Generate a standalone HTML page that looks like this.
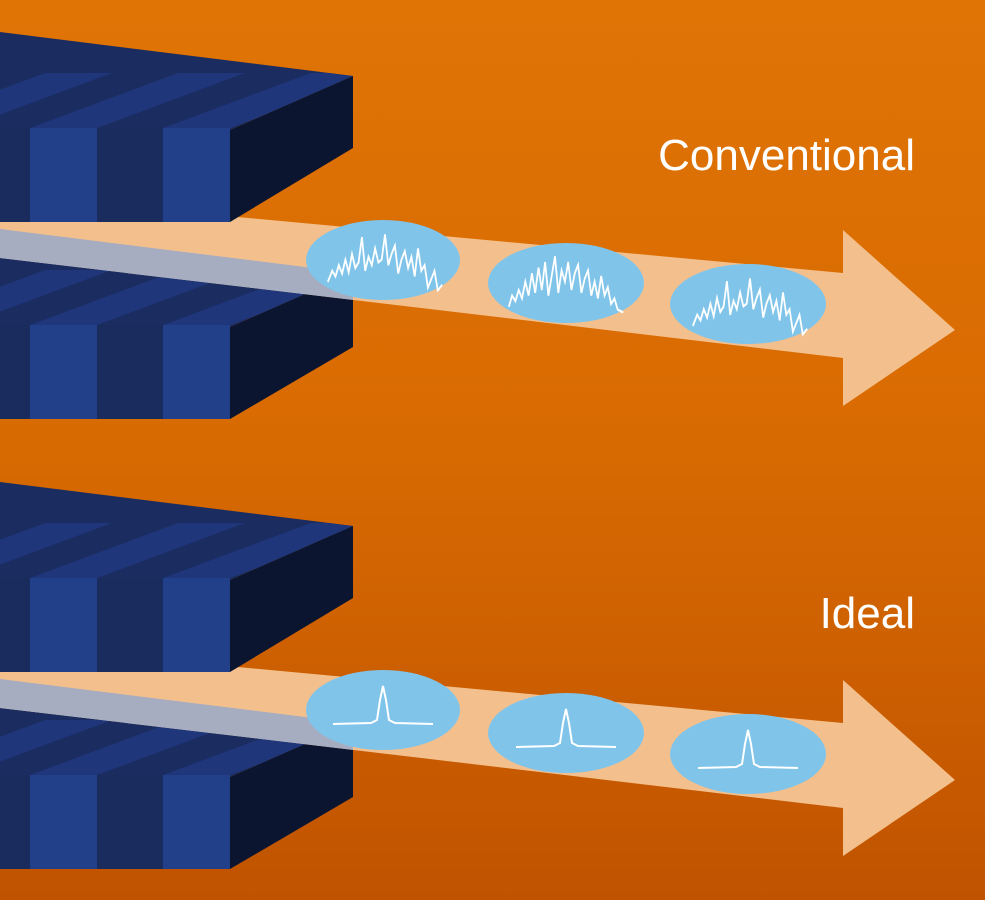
<!DOCTYPE html>
<html><head><meta charset="utf-8"><style>
html,body{margin:0;padding:0;width:985px;height:900px;overflow:hidden}
svg{display:block}
</style></head><body>
<svg width="985" height="900" viewBox="0 0 985 900" xmlns="http://www.w3.org/2000/svg">
<defs>
<linearGradient id="bg" x1="0" y1="0" x2="0" y2="1">
<stop offset="0" stop-color="#e07405"/><stop offset="0.5" stop-color="#d86a02"/><stop offset="1" stop-color="#c05300"/>
</linearGradient>
<clipPath id="topU"><polygon points="0,32 353,76 230,130 0,128"/></clipPath>
<clipPath id="topL"><polygon points="0,229 353,273 230,327 0,325"/></clipPath>
<clipPath id="beam"><polygon points="0,195 843,273 843,230 955,330 843,406 843,358 0,258"/></clipPath>
<path id="noise" d="M-52,10 L-48,2 -45,6 -42,-2 -39,4 -36,-6 -33,3 -30,-10 -27,0 -24,-4 -21,-22 -18,2 -15,-8 -12,-2 -9,-14 -6,-4 -3,-6 0,-24 3,-2 6,-10 9,-16 12,4 15,-6 18,-12 21,0 24,-8 27,6 30,-14 33,2 36,-2 39,14 42,8 45,2 48,16 52,12" fill="none" stroke="#fff" stroke-width="1.6"/>
<path id="noise2" d="M-52,12 L-49,4 -46,8 -43,0 -40,6 -37,-6 -34,4 -31,-12 -28,2 -25,-16 -22,0 -19,-20 -16,4 -13,-10 -10,-24 -7,2 -4,-14 -1,-6 2,-20 5,0 8,-12 11,-18 14,2 17,-8 20,-14 23,4 26,-6 29,6 32,-10 35,4 38,-2 41,10 44,6 47,14 52,16" fill="none" stroke="#fff" stroke-width="1.6"/>
<path id="peak" d="M-50,14 L-12,13 -6,10 -3,-10 0,-24 3,-10 6,10 12,13 50,14" fill="none" stroke="#fff" stroke-width="2"/>
<g id="group">
  <!-- lower block -->
  <g clip-path="url(#topL)">
    <rect x="0" y="220" width="360" height="110" fill="#1a2c60"/>
    <polygon points="30,325 97,325 245,270 178,270" fill="#1f377a"/>
    <polygon points="163,325 230,325 378,270 311,270" fill="#1f377a"/>
    <polygon points="-103,325 -36,325 112,270 45,270" fill="#1f377a"/>
  </g>
  <rect x="0" y="325" width="30" height="94" fill="#1a2c5e"/>
  <rect x="30" y="325" width="67" height="94" fill="#223f8a"/>
  <rect x="97" y="325" width="66" height="94" fill="#1a2c5e"/>
  <rect x="163" y="325" width="67" height="94" fill="#223f8a"/>
  <polygon points="230,327 353,273 353,347 230,419" fill="#0c1530"/>
  <!-- beam -->
  <polygon points="0,195 843,273 843,230 955,330 843,406 843,358 0,258" fill="#f3c08d"/>
  <g clip-path="url(#beam)">
    <polygon points="0,229 353,273 353,347 230,419 0,419" fill="#a6adc0"/>
  </g>
  <!-- upper block -->
  <g clip-path="url(#topU)">
    <rect x="0" y="20" width="360" height="115" fill="#1a2c60"/>
    <polygon points="30,128 97,128 245,73 178,73" fill="#1f377a"/>
    <polygon points="163,128 230,128 378,73 311,73" fill="#1f377a"/>
    <polygon points="-103,128 -36,128 112,73 45,73" fill="#1f377a"/>
  </g>
  <rect x="0" y="128" width="30" height="94" fill="#1a2c5e"/>
  <rect x="30" y="128" width="67" height="94" fill="#223f8a"/>
  <rect x="97" y="128" width="66" height="94" fill="#1a2c5e"/>
  <rect x="163" y="128" width="67" height="94" fill="#223f8a"/>
  <polygon points="230,130 353,76 353,148 230,222" fill="#0c1530"/>
  <!-- ellipses -->
  <ellipse cx="383" cy="260" rx="77" ry="40" fill="#80c4ea"/>
  <ellipse cx="566" cy="283" rx="78" ry="40" fill="#80c4ea"/>
  <ellipse cx="748" cy="304" rx="78" ry="40" fill="#80c4ea"/>
</g>
</defs>
<rect width="985" height="900" fill="url(#bg)"/>
<use href="#group"/>
<g transform="translate(385,268) scale(1.1,1.4)"><use href="#noise"/></g>
<g transform="translate(566,290) scale(1.1,1.4)"><use href="#noise2"/></g>
<g transform="translate(750,312) scale(1.1,1.4)"><use href="#noise"/></g>
<g transform="translate(0,450)"><use href="#group"/></g>
<use href="#peak" x="383" y="710"/>
<use href="#peak" x="566" y="733"/>
<use href="#peak" x="748" y="754"/>
<text x="915" y="170" text-anchor="end" font-family="Liberation Sans, sans-serif" font-size="44" fill="#fff">Conventional</text>
<text x="915" y="628" text-anchor="end" font-family="Liberation Sans, sans-serif" font-size="44" fill="#fff">Ideal</text>
</svg>
</body></html>
